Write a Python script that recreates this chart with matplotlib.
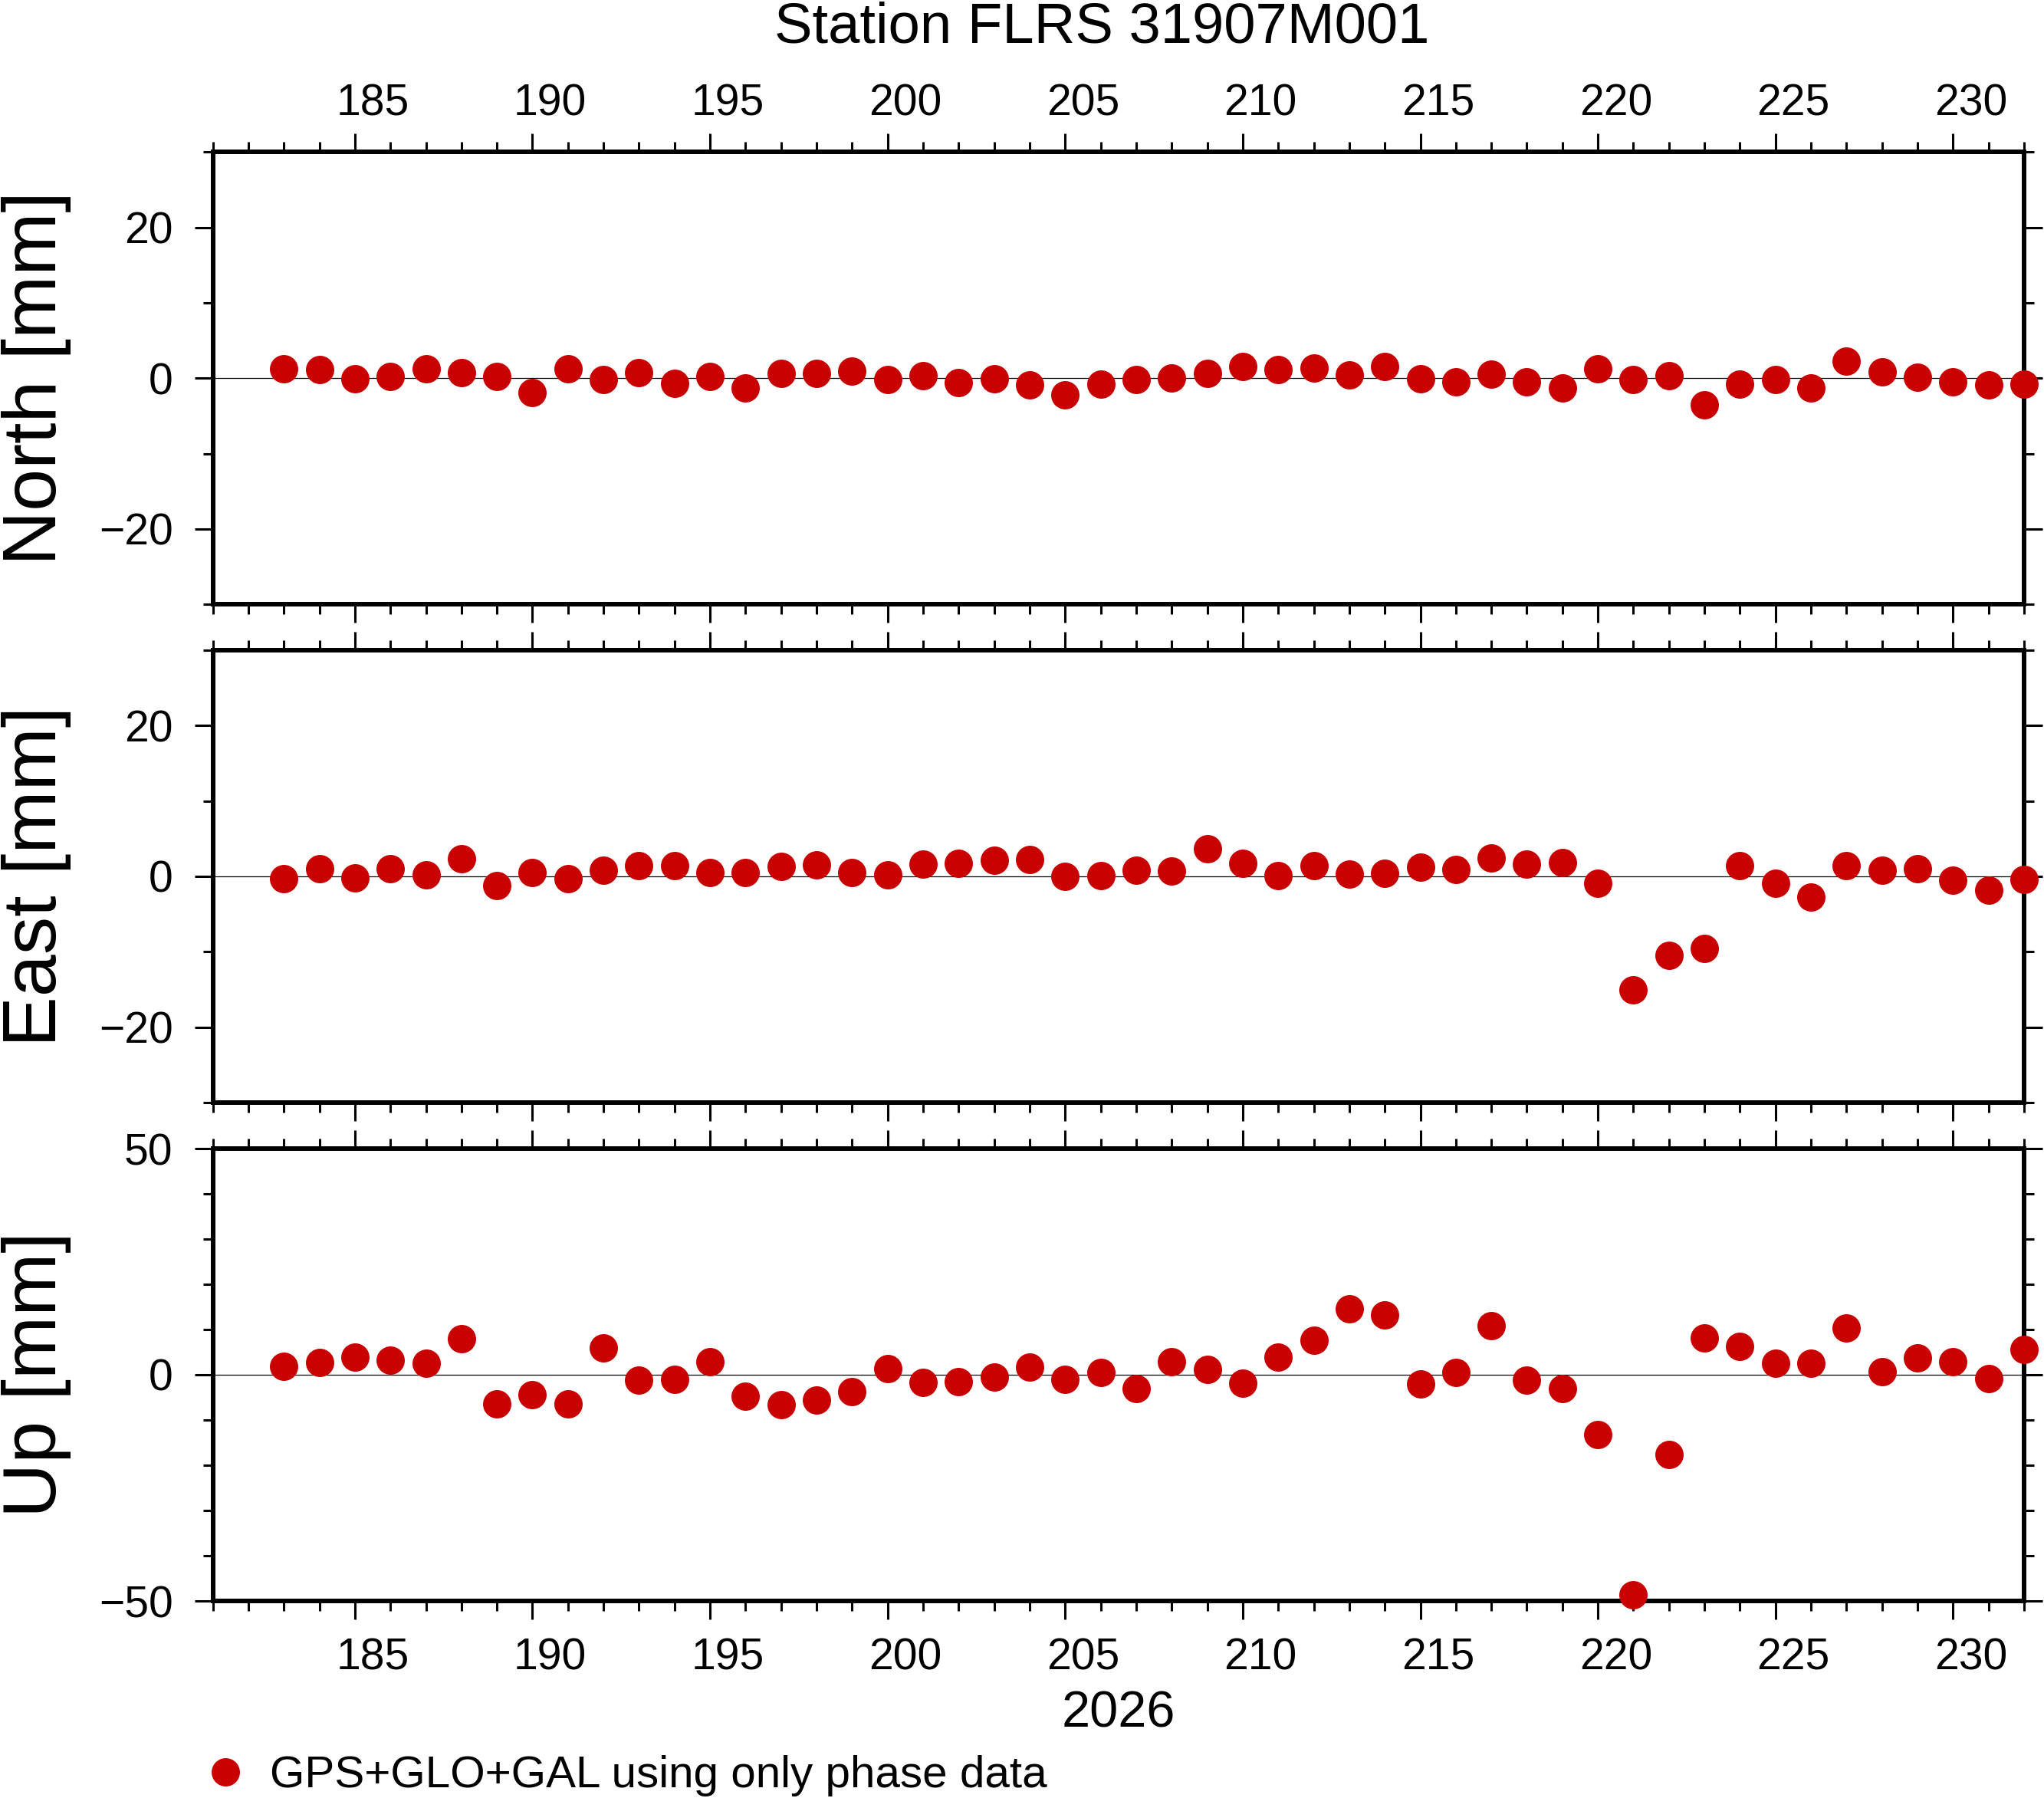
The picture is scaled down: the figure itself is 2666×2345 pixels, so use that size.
import matplotlib
matplotlib.use("Agg")
import matplotlib.pyplot as plt
from matplotlib.ticker import MultipleLocator
from matplotlib.transforms import ScaledTranslation

plt.rcParams["font.family"] = ["Liberation Sans", "DejaVu Sans"]

# day of year 2026
days = list(range(183, 233))

north = [1.3, 1.1, -0.1, 0.2, 1.2, 0.7, 0.2, -1.9, 1.3, -0.2,
         0.7, -0.7, 0.2, -1.3, 0.6, 0.6, 0.9, -0.2, 0.3, -0.6,
         -0.1, -0.9, -2.2, -0.8, -0.2, 0.0, 0.6, 1.6, 1.1, 1.4,
         0.4, 1.6, -0.1, -0.5, 0.5, -0.5, -1.3, 1.3, -0.2, 0.3,
         -3.5, -0.8, -0.2, -1.3, 2.3, 0.8, 0.1, -0.5, -0.9, -0.8]

east = [-0.3, 1.0, -0.2, 1.0, 0.2, 2.3, -1.2, 0.5, -0.3, 0.8,
        1.4, 1.4, 0.5, 0.5, 1.3, 1.5, 0.5, 0.2, 1.6, 1.7,
        2.1, 2.2, 0.0, 0.1, 0.8, 0.7, 3.7, 1.7, 0.1, 1.4,
        0.3, 0.4, 1.2, 0.9, 2.4, 1.6, 1.8, -0.9, -15.1, -10.5,
        -9.6, 1.4, -0.9, -2.7, 1.4, 0.8, 1.0, -0.5, -1.8, -0.4]

up = [1.9, 2.7, 3.9, 3.2, 2.5, 8.0, -6.4, -4.4, -6.4, 5.9,
      -1.2, -1.0, 2.9, -4.8, -6.6, -5.6, -3.7, 1.4, -1.7, -1.5,
      -0.5, 1.7, -1.0, 0.5, -3.1, 2.9, 1.2, -1.9, 3.9, 7.6,
      14.6, 13.2, -2.0, 0.5, 10.9, -1.2, -3.1, -13.2, -48.6, -17.6,
      8.1, 6.3, 2.5, 2.5, 10.3, 0.7, 3.7, 2.9, -0.9, 5.6]

components = ["North", "East", "Up"]
series = [north, east, up]
ylims = [(-30, 30), (-30, 30), (-50, 50)]
ymajor = [20, 20, 50]

station = "Station FLRS 31907M001"
year_label = "2026"
legend_label = "GPS+GLO+GAL using only phase data"
dot_color = "#c80000"

W, H = 2666, 2345
fig = plt.figure(figsize=(W / 100, H / 100), dpi=100)

left = 277.6 / W
width = 2362.4 / W
height = 590 / H
bottoms = [1 - 788.3 / H, 1 - 1438 / H, 1 - 2088 / H]

# shift day labels to the middle of the day interval
half_day = ScaledTranslation(2362.4 / 51 / 2 / 100, 0, fig.dpi_scale_trans)

axes = []
for i, (name, vals) in enumerate(zip(components, series)):
    ax = fig.add_axes([left, bottoms[i], width, height])
    ax.axhline(0, color="black", lw=0.9, zorder=1)
    line, = ax.plot(days, vals, "o", ms=26.6, color=dot_color, mec="none",
                    clip_on=False, zorder=5, label=legend_label)

    ax.set_xlim(181, 232)
    ax.set_ylim(*ylims[i])
    ax.xaxis.set_major_locator(MultipleLocator(5))
    ax.xaxis.set_minor_locator(MultipleLocator(1))
    ax.yaxis.set_major_locator(MultipleLocator(ymajor[i]))
    ax.yaxis.set_minor_locator(MultipleLocator(10))

    for sp in ax.spines.values():
        sp.set_linewidth(4.3)
    ax.tick_params(which="both", direction="out", top=True, bottom=True,
                   left=True, right=True, width=2.2, labelsize=41,
                   labeltop=False, labelbottom=False)
    ax.tick_params(which="major", length=17.5)
    ax.tick_params(which="minor", length=9.3)
    ax.tick_params(axis="y", pad=20)

    ax.set_ylabel(f"{name} [mm]", fontsize=71)
    ax.yaxis.set_label_coords(-0.0781, 0.5)
    axes.append(ax)

axes[0].tick_params(axis="x", labeltop=True, pad=8)
axes[2].tick_params(axis="x", labelbottom=True, pad=17)
for ax in (axes[0], axes[2]):
    for lab in ax.xaxis.get_majorticklabels():
        lab.set_transform(lab.get_transform() + half_day)

axes[2].set_xlabel(year_label, fontsize=48, va="baseline")
axes[2].xaxis.set_label_coords(0.5, -0.2789)

fig.text(1437 / W, 1 - 55 / H, station, ha="center", va="baseline",
         fontsize=53.5)

fig.legend(handles=[line], labels=[legend_label], loc="center left",
           bbox_to_anchor=(265 / W, 1 - 2316 / H), frameon=False,
           fontsize=42, handlelength=1.0, handletextpad=0.5,
           borderpad=0, borderaxespad=0, numpoints=1)

fig.savefig("out.png", dpi=100)
